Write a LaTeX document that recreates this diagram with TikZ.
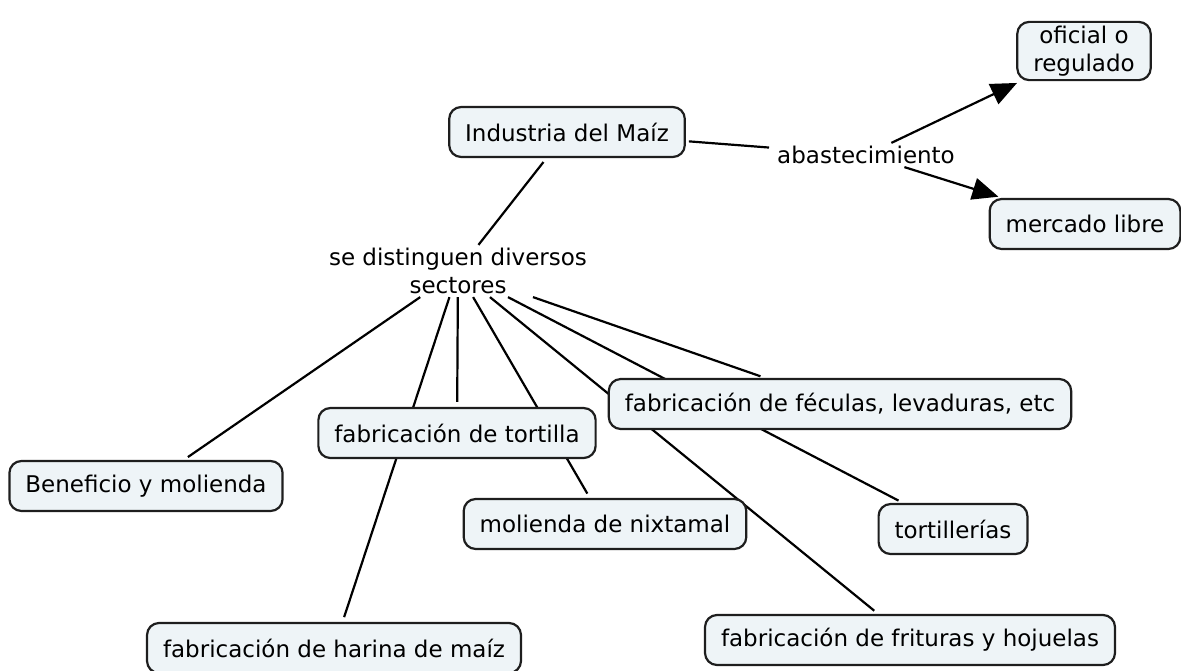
\documentclass[tikz,border=0pt]{standalone}
\usepackage{fontspec}
\setmainfont{DejaVu Sans}
\usetikzlibrary{arrows.meta,backgrounds}
\definecolor{boxfill}{RGB}{238,244,247}
\definecolor{boxline}{RGB}{30,30,30}
\begin{document}
\begin{tikzpicture}[x=1pt,y=-1pt,
  concept/.style={draw=boxline, line width=2.2pt, fill=boxfill, rounded corners=12pt,
    inner xsep=16pt, inner ysep=4pt, minimum height=50pt,
    font=\fontsize{23}{28}\selectfont, align=center},
  phrase/.style={inner sep=3pt, font=\fontsize{23}{28}\selectfont, align=center},
  link/.style={line width=2.2pt, shorten >=5pt},
  arrowlink/.style={line width=2.2pt, shorten >=4pt, -{Triangle[length=26pt,width=22pt]}}]
\useasboundingbox (0,0) rectangle (1181,670);
\node[concept] (ind) at (567,132) {Industria del Maíz};
\node[phrase] (abast) at (866,155) {abastecimiento};
\node[concept] (ofi) at (1084,51) {oficial o\\regulado};
\node[concept] (merc) at (1085,224) {mercado libre};
\node[phrase] (sect) at (458,271) {se distinguen diversos\\sectores};
\node[concept] (ben) at (146,486) {Beneficio y molienda};
\node[concept] (tort) at (457,433) {fabricación de tortilla};
\node[concept] (nix) at (605,524) {molienda de nixtamal};
\node[concept] (fec) at (840,404) {fabricación de féculas, levaduras, etc};
\node[concept] (tlr) at (953,529) {tortillerías};
\node[concept] (har) at (334,648) {fabricación de harina de maíz};
\node[concept] (frit) at (910,640) {fabricación de frituras y hojuelas};
\begin{pgfonlayer}{background}
\draw[link, shorten <=3pt] (ind) -- (abast);
\draw[link, shorten <=5pt, shorten >=0pt] (ind) -- (sect);
\draw[arrowlink] (abast) -- (ofi);
\draw[arrowlink] (abast) -- (merc);
\draw[link] (sect) -- (ben);
\draw[link] (sect) -- (har);
\draw[link] (sect) -- (tort);
\draw[link] (sect) -- (nix);
\draw[link] (sect) -- (frit);
\draw[link] (sect) -- (tlr);
\draw[link] (sect) -- (fec);
\end{pgfonlayer}
\end{tikzpicture}
\end{document}
